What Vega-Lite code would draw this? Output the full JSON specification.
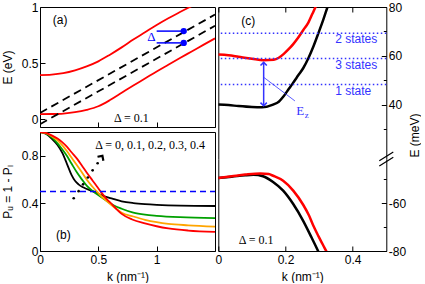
{
"$schema": "https://vega.github.io/schema/vega-lite/v6.json",
"background": "white",
"padding": {"left": 0, "top": 0, "right": 0, "bottom": 0},
"config": {
  "view": {"stroke": "black", "strokeWidth": 1},
  "axis": {"grid": false, "domain": false, "tickColor": "black", "labelColor": "black", "titleColor": "black", "labelFont": "Liberation Sans", "titleFont": "Liberation Sans", "labelFontSize": 12, "titleFontSize": 12, "titleFontWeight": "normal", "tickWidth": 1, "labelFlush": false, "labelOverlap": false, "domainColor": "black"},
  "text": {"font": "Liberation Sans", "fontSize": 12, "color": "black"}
},
"datasets": {
  "a_red": [
    {"k":0,"E":0.393,"s":"u"},{"k":0.1,"E":0.397,"s":"u"},{"k":0.2,"E":0.41,"s":"u"},{"k":0.3,"E":0.435,"s":"u"},{"k":0.4,"E":0.47,"s":"u"},{"k":0.5,"E":0.515,"s":"u"},{"k":0.6,"E":0.575,"s":"u"},{"k":0.7,"E":0.64,"s":"u"},{"k":0.8,"E":0.71,"s":"u"},{"k":0.9,"E":0.775,"s":"u"},{"k":1.0,"E":0.84,"s":"u"},{"k":1.1,"E":0.9,"s":"u"},{"k":1.2,"E":0.955,"s":"u"},{"k":1.3,"E":1.008,"s":"u"},{"k":1.5,"E":1.12,"s":"u"},
    {"k":0,"E":0.045,"s":"l"},{"k":0.1,"E":0.046,"s":"l"},{"k":0.2,"E":0.05,"s":"l"},{"k":0.3,"E":0.062,"s":"l"},{"k":0.4,"E":0.083,"s":"l"},{"k":0.5,"E":0.115,"s":"l"},{"k":0.6,"E":0.17,"s":"l"},{"k":0.7,"E":0.235,"s":"l"},{"k":0.8,"E":0.3,"s":"l"},{"k":0.9,"E":0.362,"s":"l"},{"k":1.0,"E":0.425,"s":"l"},{"k":1.1,"E":0.485,"s":"l"},{"k":1.2,"E":0.545,"s":"l"},{"k":1.3,"E":0.603,"s":"l"},{"k":1.4,"E":0.662,"s":"l"},{"k":1.5,"E":0.72,"s":"l"}
  ],
  "a_dash": [
    {"k":0,"E":0.055,"s":"u"},{"k":1.5,"E":0.9325,"s":"u"},
    {"k":0,"E":-0.045,"s":"l"},{"k":1.5,"E":0.8325,"s":"l"}
  ],
  "a_mark": [
    {"k":1.0,"k2":1.232,"E":0.785},
    {"k":1.0,"k2":1.232,"E":0.68}
  ],
  "a_dot": [{"k":1.232,"E":0.785},{"k":1.232,"E":0.68}],
  "a_lab": [{"k":0.109,"E":0.882,"t":"(a)"}],
  "a_delta": [{"k":0.634,"E":0.014,"t":"Δ = 0.1"}],
  "a_blue": [{"k":0.99,"E":0.735,"t":"Δ"}],
  "b_curves": [
    {"k":0,"P":1,"s":"black"},{"k":0.05,"P":0.985,"s":"black"},{"k":0.1,"P":0.945,"s":"black"},{"k":0.15,"P":0.89,"s":"black"},{"k":0.19,"P":0.826,"s":"black"},{"k":0.23,"P":0.735,"s":"black"},{"k":0.27,"P":0.64,"s":"black"},{"k":0.3,"P":0.59,"s":"black"},{"k":0.33,"P":0.56,"s":"black"},{"k":0.37,"P":0.535,"s":"black"},{"k":0.45,"P":0.503,"s":"black"},{"k":0.53,"P":0.468,"s":"black"},{"k":0.62,"P":0.44,"s":"black"},{"k":0.7,"P":0.418,"s":"black"},{"k":0.8,"P":0.403,"s":"black"},{"k":0.9,"P":0.394,"s":"black"},{"k":1.0,"P":0.388,"s":"black"},{"k":1.2,"P":0.381,"s":"black"},{"k":1.5,"P":0.378,"s":"black"},
    {"k":0,"P":1,"s":"green"},{"k":0.05,"P":0.988,"s":"green"},{"k":0.1,"P":0.955,"s":"green"},{"k":0.15,"P":0.905,"s":"green"},{"k":0.19,"P":0.855,"s":"green"},{"k":0.23,"P":0.8,"s":"green"},{"k":0.27,"P":0.735,"s":"green"},{"k":0.32,"P":0.655,"s":"green"},{"k":0.36,"P":0.6,"s":"green"},{"k":0.4,"P":0.55,"s":"green"},{"k":0.45,"P":0.505,"s":"green"},{"k":0.49,"P":0.476,"s":"green"},{"k":0.57,"P":0.422,"s":"green"},{"k":0.63,"P":0.385,"s":"green"},{"k":0.7,"P":0.355,"s":"green"},{"k":0.8,"P":0.322,"s":"green"},{"k":0.9,"P":0.305,"s":"green"},{"k":1.0,"P":0.296,"s":"green"},{"k":1.2,"P":0.285,"s":"green"},{"k":1.5,"P":0.277,"s":"green"},
    {"k":0,"P":1,"s":"orange"},{"k":0.05,"P":0.99,"s":"orange"},{"k":0.1,"P":0.965,"s":"orange"},{"k":0.15,"P":0.93,"s":"orange"},{"k":0.19,"P":0.89,"s":"orange"},{"k":0.23,"P":0.84,"s":"orange"},{"k":0.27,"P":0.785,"s":"orange"},{"k":0.32,"P":0.716,"s":"orange"},{"k":0.36,"P":0.66,"s":"orange"},{"k":0.4,"P":0.6,"s":"orange"},{"k":0.45,"P":0.54,"s":"orange"},{"k":0.49,"P":0.496,"s":"orange"},{"k":0.53,"P":0.456,"s":"orange"},{"k":0.57,"P":0.422,"s":"orange"},{"k":0.62,"P":0.38,"s":"orange"},{"k":0.66,"P":0.35,"s":"orange"},{"k":0.7,"P":0.322,"s":"orange"},{"k":0.8,"P":0.29,"s":"orange"},{"k":0.9,"P":0.262,"s":"orange"},{"k":1.0,"P":0.242,"s":"orange"},{"k":1.1,"P":0.228,"s":"orange"},{"k":1.27,"P":0.216,"s":"orange"},{"k":1.5,"P":0.205,"s":"orange"},
    {"k":0,"P":1,"s":"red"},{"k":0.05,"P":0.992,"s":"red"},{"k":0.1,"P":0.972,"s":"red"},{"k":0.15,"P":0.945,"s":"red"},{"k":0.19,"P":0.915,"s":"red"},{"k":0.23,"P":0.877,"s":"red"},{"k":0.27,"P":0.83,"s":"red"},{"k":0.32,"P":0.772,"s":"red"},{"k":0.36,"P":0.716,"s":"red"},{"k":0.4,"P":0.66,"s":"red"},{"k":0.45,"P":0.593,"s":"red"},{"k":0.49,"P":0.54,"s":"red"},{"k":0.53,"P":0.486,"s":"red"},{"k":0.57,"P":0.438,"s":"red"},{"k":0.62,"P":0.39,"s":"red"},{"k":0.66,"P":0.348,"s":"red"},{"k":0.7,"P":0.312,"s":"red"},{"k":0.79,"P":0.265,"s":"red"},{"k":0.9,"P":0.232,"s":"red"},{"k":1.0,"P":0.208,"s":"red"},{"k":1.1,"P":0.19,"s":"red"},{"k":1.27,"P":0.172,"s":"red"},{"k":1.5,"P":0.16,"s":"red"}
  ],
  "b_half": [{"k":0,"P":0.5,"k2":1.5}],
  "b_dots": [{"k":0.289,"P":0.443},{"k":0.331,"P":0.503},{"k":0.369,"P":0.56},{"k":0.41,"P":0.618},{"k":0.451,"P":0.678},{"k":0.494,"P":0.737}],
  "b_head": [{"k":0.535,"P":0.8}],
  "b_lab": [{"k":0.137,"P":0.134,"t":"(b)"}],
  "b_delta": [{"k":0.474,"P":0.891,"t":"Δ = 0, 0.1, 0.2, 0.3, 0.4"}],
  "c_top": [
    {"k":0,"E":40.0,"s":"black"},{"k":0.03,"E":39.8,"s":"black"},{"k":0.06,"E":39.4,"s":"black"},{"k":0.1,"E":39.0,"s":"black"},{"k":0.13,"E":38.9,"s":"black"},{"k":0.163,"E":40.0,"s":"black"},{"k":0.18,"E":41.2,"s":"black"},{"k":0.195,"E":43.5,"s":"black"},{"k":0.21,"E":46.5,"s":"black"},{"k":0.222,"E":48.8,"s":"black"},{"k":0.238,"E":52,"s":"black"},{"k":0.253,"E":55,"s":"black"},{"k":0.268,"E":59,"s":"black"},{"k":0.283,"E":63.8,"s":"black"},{"k":0.298,"E":69.3,"s":"black"},{"k":0.312,"E":74.6,"s":"black"},{"k":0.325,"E":80,"s":"black"},{"k":0.34,"E":86,"s":"black"},
    {"k":0,"E":60.5,"s":"red"},{"k":0.03,"E":60.2,"s":"red"},{"k":0.06,"E":59.6,"s":"red"},{"k":0.1,"E":58.8,"s":"red"},{"k":0.135,"E":58.2,"s":"red"},{"k":0.165,"E":58.4,"s":"red"},{"k":0.18,"E":59.2,"s":"red"},{"k":0.195,"E":60.8,"s":"red"},{"k":0.21,"E":62.8,"s":"red"},{"k":0.223,"E":64.8,"s":"red"},{"k":0.238,"E":67.5,"s":"red"},{"k":0.253,"E":70.6,"s":"red"},{"k":0.268,"E":73.6,"s":"red"},{"k":0.28,"E":77.2,"s":"red"},{"k":0.29,"E":80.2,"s":"red"},{"k":0.3,"E":83.5,"s":"red"}
  ],
  "c_bot": [
    {"k":0,"E":-49.5,"s":"black"},{"k":0.04,"E":-49.0,"s":"black"},{"k":0.08,"E":-48.4,"s":"black"},{"k":0.105,"E":-48.2,"s":"black"},{"k":0.133,"E":-48.8,"s":"black"},{"k":0.163,"E":-51.2,"s":"black"},{"k":0.193,"E":-54.8,"s":"black"},{"k":0.223,"E":-60.4,"s":"black"},{"k":0.253,"E":-67.5,"s":"black"},{"k":0.278,"E":-74.5,"s":"black"},{"k":0.298,"E":-80.3,"s":"black"},{"k":0.31,"E":-84,"s":"black"},
    {"k":0,"E":-49.5,"s":"red"},{"k":0.04,"E":-48.8,"s":"red"},{"k":0.08,"E":-48.1,"s":"red"},{"k":0.125,"E":-47.6,"s":"red"},{"k":0.15,"E":-47.9,"s":"red"},{"k":0.163,"E":-48.6,"s":"red"},{"k":0.193,"E":-50.7,"s":"red"},{"k":0.223,"E":-54.8,"s":"red"},{"k":0.253,"E":-60.8,"s":"red"},{"k":0.27,"E":-65.2,"s":"red"},{"k":0.283,"E":-69.5,"s":"red"},{"k":0.298,"E":-73.8,"s":"red"},{"k":0.311,"E":-77.3,"s":"red"},{"k":0.323,"E":-80.5,"s":"red"},{"k":0.335,"E":-84,"s":"red"}
  ],
  "c_lines": [{"E":69.2},{"E":58.9},{"E":48.2}],
  "c_states": [{"k":0.348,"E":66.9,"t":"2 states"},{"k":0.348,"E":56.4,"t":"3 states"},{"k":0.348,"E":45.5,"t":"1 state"}],
  "c_arrow": [{"k":0.135,"E1":39.5,"E2":57.3}],
  "c_up": [{"k":0.135,"E":57.3}],
  "c_down": [{"k":0.135,"E":39.5}],
  "c_ez": [{"k":0.135,"E1":51.2,"k2":0.228,"E2":41.5}],
  "c_E": [{"k":0.232,"E":35.6,"t":"E"}],
  "c_lab": [{"k":0.068,"E":74.1,"t":"(c)"}],
  "c_delta": [{"k":0.061,"E":-75.5,"t":"Δ = 0.1"}],
  "c_break": [{"k":0.5,"E":-41.6}]
},
"spacing": -2.7,
"hconcat": [
  {
    "spacing": 5,
    "bounds": "flush",
    "vconcat": [
      {
        "width": 175, "height": 120,
        "layer": [
          {"data": {"name": "a_red"}, "mark": {"type": "line", "clip": true, "interpolate": "monotone", "color": "#ff0000", "strokeWidth": 1.8},
           "encoding": {
             "x": {"field": "k", "type": "quantitative", "scale": {"domain": [0, 1.5], "nice": false, "zero": false},
                   "axis": {"values": [0,0.25,0.5,0.75,1,1.25,1.5], "labels": false, "title": null,
                            "tickSize": {"condition": {"test": "datum.value==0 || datum.value==0.5 || datum.value==1 || datum.value==1.5", "value": -5}, "value": -3}}},
             "y": {"field": "E", "type": "quantitative", "scale": {"domain": [-0.07, 1], "nice": false, "zero": false},
                   "axis": {"values": [0,0.25,0.5,0.75,1], "format": "~g", "labelExpr": "(datum.value==0 || datum.value==0.5 || datum.value==1) ? datum.label : ''",
                            "labelPadding": 7, "title": "E (eV)", "titleX": -26,
                            "tickSize": {"condition": {"test": "datum.value==0 || datum.value==0.5 || datum.value==1", "value": -5}, "value": -3}}},
             "detail": {"field": "s"}
           }},
          {"data": {"name": "a_dash"}, "mark": {"type": "line", "clip": true, "color": "black", "strokeWidth": 1.8, "strokeDash": [8, 5]},
           "encoding": {"x": {"field": "k", "type": "quantitative"}, "y": {"field": "E", "type": "quantitative"}, "detail": {"field": "s"}}},
          {"data": {"name": "a_mark"}, "mark": {"type": "rule", "color": "#0000ff", "strokeWidth": 1.5},
           "encoding": {"x": {"field": "k", "type": "quantitative"}, "x2": {"field": "k2"}, "y": {"field": "E", "type": "quantitative"}}},
          {"data": {"name": "a_dot"}, "mark": {"type": "point", "filled": true, "color": "#0000ff", "size": 40, "opacity": 1},
           "encoding": {"x": {"field": "k", "type": "quantitative"}, "y": {"field": "E", "type": "quantitative"}}},
          {"data": {"name": "a_lab"}, "mark": {"type": "text", "align": "left", "baseline": "middle"},
           "encoding": {"x": {"field": "k", "type": "quantitative"}, "y": {"field": "E", "type": "quantitative"}, "text": {"field": "t"}}},
          {"data": {"name": "a_delta"}, "mark": {"type": "text", "align": "left", "baseline": "middle", "font": "Liberation Serif", "fontSize": 12},
           "encoding": {"x": {"field": "k", "type": "quantitative"}, "y": {"field": "E", "type": "quantitative"}, "text": {"field": "t"}}},
          {"data": {"name": "a_blue"}, "mark": {"type": "text", "align": "right", "baseline": "middle", "font": "Liberation Serif", "fontSize": 13, "color": "#0000ff"},
           "encoding": {"x": {"field": "k", "type": "quantitative"}, "y": {"field": "E", "type": "quantitative"}, "text": {"field": "t"}}}
        ]
      },
      {
        "width": 175, "height": 119,
        "layer": [
          {"data": {"name": "b_curves"}, "mark": {"type": "line", "clip": true, "interpolate": "monotone", "strokeWidth": 1.8},
           "encoding": {
             "x": {"field": "k", "type": "quantitative", "scale": {"domain": [0, 1.5], "nice": false, "zero": false},
                   "axis": {"values": [0,0.25,0.5,0.75,1,1.25,1.5], "format": "~g", "labelExpr": "(datum.value==0 || datum.value==0.5 || datum.value==1) ? datum.label : ''",
                            "labelPadding": 8, "title": "k (nm⁻¹)", "titlePadding": 6,
                            "tickSize": {"condition": {"test": "datum.value==0 || datum.value==0.5 || datum.value==1 || datum.value==1.5", "value": -5}, "value": -3}}},
             "y": {"field": "P", "type": "quantitative", "scale": {"domain": [0, 1], "nice": false},
                   "axis": {"values": [0,0.1,0.2,0.3,0.4,0.5,0.6,0.7,0.8,0.9,1], "format": "~g", "labelExpr": "(datum.value==0 || datum.value==0.2 || datum.value==0.4 || datum.value==0.6 || datum.value==0.8 || datum.value==1) ? datum.label : ''",
                            "labelPadding": 7, "title": "Pᵤ = 1 - Pₗ", "titleX": -26,
                            "tickSize": {"condition": {"test": "datum.value==0 || datum.value==0.2 || datum.value==0.4 || datum.value==0.6 || datum.value==0.8 || datum.value==1", "value": -5}, "value": -3}}},
             "color": {"field": "s", "type": "nominal", "scale": {"domain": ["black","green","orange","red"], "range": ["#000000","#00a000","#ffa500","#ff0000"]}, "legend": null}
           }},
          {"data": {"name": "b_half"}, "mark": {"type": "rule", "color": "#0000ff", "strokeWidth": 1.5, "strokeDash": [6, 4]},
           "encoding": {"x": {"field": "k", "type": "quantitative"}, "x2": {"field": "k2"}, "y": {"field": "P", "type": "quantitative"}}},
          {"data": {"name": "b_dots"}, "mark": {"type": "point", "filled": true, "color": "black", "size": 7, "opacity": 1},
           "encoding": {"x": {"field": "k", "type": "quantitative"}, "y": {"field": "P", "type": "quantitative"}}},
          {"data": {"name": "b_head"}, "mark": {"type": "point", "shape": "M-1,1L0,0L1,1", "filled": false, "color": "black", "strokeWidth": 2.2, "size": 50, "angle": 34, "opacity": 1},
           "encoding": {"x": {"field": "k", "type": "quantitative"}, "y": {"field": "P", "type": "quantitative"}}},
          {"data": {"name": "b_lab"}, "mark": {"type": "text", "align": "left", "baseline": "middle"},
           "encoding": {"x": {"field": "k", "type": "quantitative"}, "y": {"field": "P", "type": "quantitative"}, "text": {"field": "t"}}},
          {"data": {"name": "b_delta"}, "mark": {"type": "text", "align": "left", "baseline": "middle", "font": "Liberation Serif", "fontSize": 12},
           "encoding": {"x": {"field": "k", "type": "quantitative"}, "y": {"field": "P", "type": "quantitative"}, "text": {"field": "t"}}}
        ]
      }
    ]
  },
  {
    "spacing": 0,
    "bounds": "flush",
    "vconcat": [
      {
        "width": 168, "height": 152,
        "view": {"stroke": null},
        "layer": [
          {"data": {"name": "c_top"}, "mark": {"type": "line", "clip": true, "interpolate": "monotone", "strokeWidth": 2.5},
           "encoding": {
             "x": {"field": "k", "type": "quantitative", "scale": {"domain": [0, 0.5], "nice": false, "zero": false},
                   "axis": {"orient": "top", "values": [0,0.1,0.2,0.3,0.4,0.5], "labels": false, "title": null, "domain": true,
                            "tickSize": {"condition": {"test": "datum.value==0 || datum.value==0.2 || datum.value==0.4", "value": -5}, "value": -3}}},
             "y": {"field": "E", "type": "quantitative", "scale": {"domain": [17.7, 80], "nice": false, "zero": false},
                   "axis": {"orient": "right", "values": [30,40,50,60,70,80], "labelExpr": "(datum.value==40 || datum.value==60 || datum.value==80) ? datum.value + '' : ''",
                            "labelPadding": 7, "domain": true, "title": "E (meV)", "titleAngle": -90, "titleX": 35, "titleY": 128, "titleBaseline": "bottom", "titleAlign": "center",
                            "tickSize": {"condition": {"test": "datum.value==40 || datum.value==60 || datum.value==80", "value": -5}, "value": -3}}},
             "color": {"field": "s", "type": "nominal", "scale": {"domain": ["black","red"], "range": ["#000000","#ff0000"]}, "legend": null}
           }},
          {"data": {"name": "c_lines"}, "mark": {"type": "rule", "color": "#3333ff", "strokeWidth": 1.5, "strokeDash": [1.5, 2.5]},
           "encoding": {"y": {"field": "E", "type": "quantitative",
                              "axis": {"orient": "left", "labels": false, "ticks": false, "title": null, "domain": true}}}},
          {"data": {"name": "c_arrow"}, "mark": {"type": "rule", "color": "#3333ff", "strokeWidth": 1.5},
           "encoding": {"x": {"field": "k", "type": "quantitative"}, "y": {"field": "E1", "type": "quantitative", "axis": null}, "y2": {"field": "E2"}}},
          {"data": {"name": "c_up"}, "mark": {"type": "point", "shape": "M-1,1L0,0L1,1", "filled": false, "color": "#3333ff", "strokeWidth": 1.5, "size": 40, "opacity": 1},
           "encoding": {"x": {"field": "k", "type": "quantitative"}, "y": {"field": "E", "type": "quantitative", "axis": null}}},
          {"data": {"name": "c_down"}, "mark": {"type": "point", "shape": "M-1,-1L0,0L1,-1", "filled": false, "color": "#3333ff", "strokeWidth": 1.5, "size": 40, "opacity": 1},
           "encoding": {"x": {"field": "k", "type": "quantitative"}, "y": {"field": "E", "type": "quantitative", "axis": null}}},
          {"data": {"name": "c_ez"}, "mark": {"type": "rule", "color": "#3333ff", "strokeWidth": 0.8},
           "encoding": {"x": {"field": "k", "type": "quantitative"}, "y": {"field": "E1", "type": "quantitative", "axis": null}, "x2": {"field": "k2"}, "y2": {"field": "E2"}}},
          {"data": {"name": "c_E"}, "mark": {"type": "text", "align": "left", "baseline": "alphabetic", "font": "Liberation Serif", "fontSize": 13, "color": "#3333ff"},
           "encoding": {"x": {"field": "k", "type": "quantitative"}, "y": {"field": "E", "type": "quantitative", "axis": null}, "text": {"field": "t"}}},
          {"data": {"name": "c_E"}, "mark": {"type": "text", "align": "left", "baseline": "alphabetic", "font": "Liberation Serif", "fontSize": 9, "color": "#3333ff", "dx": 8.5, "dy": 3},
           "encoding": {"x": {"field": "k", "type": "quantitative"}, "y": {"field": "E", "type": "quantitative", "axis": null}, "text": {"value": "z"}}},
          {"data": {"name": "c_states"}, "mark": {"type": "text", "align": "left", "baseline": "middle", "color": "#3333ff"},
           "encoding": {"x": {"field": "k", "type": "quantitative"}, "y": {"field": "E", "type": "quantitative", "axis": null}, "text": {"field": "t"}}},
          {"data": {"name": "c_lab"}, "mark": {"type": "text", "align": "left", "baseline": "middle"},
           "encoding": {"x": {"field": "k", "type": "quantitative"}, "y": {"field": "E", "type": "quantitative", "axis": null}, "text": {"field": "t"}}}
        ]
      },
      {
        "width": 168, "height": 92,
        "view": {"stroke": null},
        "layer": [
          {"data": {"name": "c_bot"}, "mark": {"type": "line", "clip": true, "interpolate": "monotone", "strokeWidth": 2.5},
           "encoding": {
             "x": {"field": "k", "type": "quantitative", "scale": {"domain": [0, 0.5], "nice": false, "zero": false},
                   "axis": {"values": [0,0.1,0.2,0.3,0.4,0.5], "labelExpr": "(datum.value==0 || datum.value==0.2 || datum.value==0.4) ? datum.value + '' : ''",
                            "labelPadding": 8, "domain": true, "title": "k (nm⁻¹)", "titlePadding": 6,
                            "tickSize": {"condition": {"test": "datum.value==0 || datum.value==0.2 || datum.value==0.4", "value": -5}, "value": -3}}},
             "y": {"field": "E", "type": "quantitative", "scale": {"domain": [-80, -41.6], "nice": false, "zero": false},
                   "axis": {"orient": "right", "values": [-80,-70,-60,-50], "labelExpr": "(datum.value==-60 || datum.value==-80) ? datum.value + '' : ''",
                            "labelPadding": 7, "domain": true, "title": null,
                            "tickSize": {"condition": {"test": "datum.value==-60 || datum.value==-80", "value": -5}, "value": -3}}},
             "color": {"field": "s", "type": "nominal", "scale": {"domain": ["black","red"], "range": ["#000000","#ff0000"]}, "legend": null}
           }},
          {"data": {"name": "c_break"}, "mark": {"type": "point", "shape": "M-1,0.25L1,-1M-1,1L1,-0.25", "filled": false, "color": "black", "strokeWidth": 1.2, "size": 196, "opacity": 1},
           "encoding": {"x": {"field": "k", "type": "quantitative"}, "y": {"field": "E", "type": "quantitative", "axis": {"orient": "left", "labels": false, "ticks": false, "title": null, "domain": true}}}},
          {"data": {"name": "c_delta"}, "mark": {"type": "text", "align": "left", "baseline": "middle", "font": "Liberation Serif", "fontSize": 12},
           "encoding": {"x": {"field": "k", "type": "quantitative"}, "y": {"field": "E", "type": "quantitative", "axis": null}, "text": {"field": "t"}}}
        ]
      }
    ]
  }
]
}
